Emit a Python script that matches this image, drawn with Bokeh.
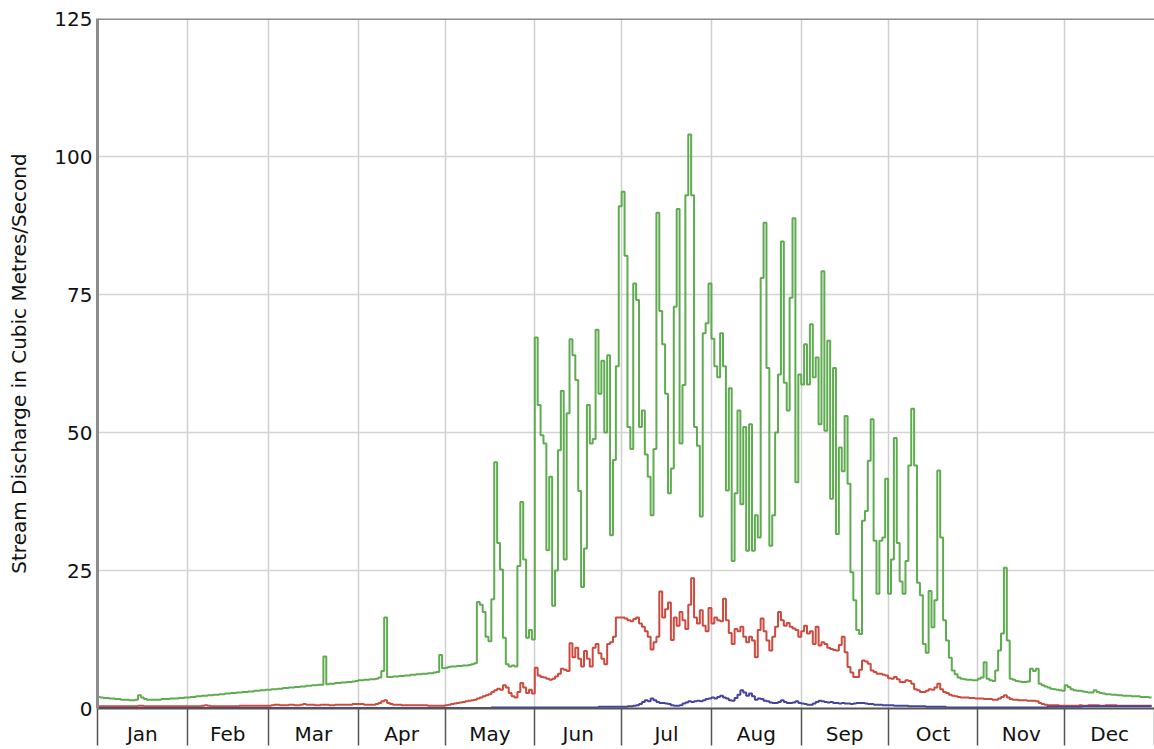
import numpy as np
from bokeh.plotting import figure
from bokeh.models import Range1d, FixedTicker, Span
from bokeh.embed import file_html
from bokeh.resources import INLINE

# ---------------- data ----------------
months = ["Jan", "Feb", "Mar", "Apr", "May", "Jun",
          "Jul", "Aug", "Sep", "Oct", "Nov", "Dec"]
month_days = [31, 28, 31, 30, 31, 30, 31, 31, 30, 31, 30, 31]
y_ticks = [0, 25, 50, 75, 100, 125]
y_title = "Stream Discharge in Cubic Metres/Second"

# green station (daily discharge, m3/s)
g_jan = [2.1, 2.0, 1.9, 1.9, 1.8, 1.8, 1.7, 1.7, 1.6, 1.6, 1.6, 1.5, 1.5, 1.6, 2.4, 2.0,
         1.7, 1.6, 1.6, 1.6, 1.6, 1.6, 1.7, 1.7, 1.7, 1.8, 1.8, 1.8, 1.9, 1.9, 2.0]
g_feb = [2.0, 2.1, 2.1, 2.2, 2.2, 2.3, 2.3, 2.4, 2.4, 2.5, 2.5, 2.6, 2.6, 2.7, 2.7, 2.8,
         2.8, 2.9, 2.9, 3.0, 3.0, 3.1, 3.1, 3.2, 3.2, 3.3, 3.3, 3.4]
g_mar = [3.4, 3.5, 3.5, 3.6, 3.6, 3.7, 3.7, 3.8, 3.8, 3.9, 3.9, 4.0, 4.0, 4.1, 4.1, 4.2,
         4.2, 4.3, 4.3, 9.4, 4.4, 4.5, 4.5, 4.6, 4.6, 4.7, 4.7, 4.8, 4.8, 4.9, 5.0]
g_apr = [5.1, 5.1, 5.2, 5.2, 5.3, 5.3, 5.4, 5.6, 6.8, 16.5, 5.7, 5.7, 5.8, 5.8, 5.9,
         5.9, 6.0, 6.0, 6.1, 6.1, 6.2, 6.2, 6.3, 6.3, 6.4, 6.4, 6.5, 6.6, 9.7, 7.3]
g_may = [7.4, 7.5, 7.6, 7.6, 7.7, 7.7, 7.8, 7.8, 7.9, 8.0, 8.2, 19.3, 18.8, 17.5, 13.0,
         12.2, 19.8, 44.6, 30.0, 25.2, 12.8, 8.0, 7.6, 7.8, 7.6, 25.8, 37.4, 27.0, 12.8,
         14.2, 12.5]
g_jun = [67.2, 55.0, 49.5, 48.0, 28.7, 42.0, 18.6, 25.0, 46.8, 57.5, 27.0, 53.5, 66.9,
         64.0, 59.5, 39.4, 22.0, 29.0, 55.0, 48.0, 48.8, 68.6, 57.0, 63.0, 50.0, 64.0,
         31.4, 45.0, 62.0, 91.0]
g_jul = [93.6, 82.0, 51.0, 47.0, 77.0, 74.0, 51.0, 54.0, 46.0, 42.0, 35.0, 47.0, 89.8,
         72.0, 66.0, 57.0, 39.0, 43.5, 72.8, 90.5, 48.0, 58.6, 93.0, 104.0, 93.0, 51.0,
         47.6, 34.8, 68.0, 69.8, 77.0]
g_aug = [67.0, 62.0, 60.0, 68.0, 62.0, 39.5, 58.0, 26.7, 39.0, 54.0, 37.0, 51.0, 28.6,
         51.5, 28.6, 35.0, 31.0, 78.0, 88.0, 61.7, 29.5, 35.0, 50.0, 60.5, 84.6, 59.0,
         54.0, 74.4, 88.8, 41.0, 60.5]
g_sep = [58.7, 66.0, 58.7, 69.6, 60.0, 63.6, 51.5, 79.2, 50.3, 66.6, 38.0, 61.7, 31.6,
         47.3, 43.0, 53.0, 40.7, 24.7, 19.6, 14.2, 13.5, 34.0, 35.8, 44.9, 52.4, 30.4,
         20.8, 30.4, 31.0, 41.6]
g_oct = [20.8, 27.0, 49.0, 30.0, 23.0, 20.8, 26.7, 44.0, 54.3, 44.0, 22.8, 20.5, 11.7,
         10.1, 21.3, 14.7, 19.6, 43.1, 31.0, 16.0, 12.3, 9.2, 6.9, 6.2, 5.6, 5.4, 5.3,
         5.2, 5.2, 5.1, 5.1]
g_nov = [5.4, 5.6, 8.4, 5.4, 5.1, 5.0, 6.9, 10.5, 13.6, 25.5, 12.3, 5.4, 5.2, 5.0, 4.9,
         4.8, 4.8, 4.9, 7.2, 6.8, 7.2, 4.5, 4.2, 4.0, 3.8, 3.6, 3.5, 3.4, 3.3, 3.2]
g_dec = [4.2, 3.9, 3.5, 3.3, 3.2, 3.2, 3.1, 3.0, 2.9, 2.9, 3.3, 3.0, 2.8, 2.7, 2.6, 2.6,
         2.5, 2.5, 2.4, 2.4, 2.3, 2.3, 2.3, 2.2, 2.2, 2.2, 2.1, 2.1, 2.1, 2.0, 2.0]

# red station
r_jan = [0.4, 0.4, 0.4, 0.4, 0.4, 0.4, 0.4, 0.4, 0.4, 0.4, 0.4, 0.4, 0.4, 0.4, 0.5, 0.5,
         0.4, 0.4, 0.4, 0.4, 0.4, 0.4, 0.4, 0.4, 0.4, 0.4, 0.4, 0.4, 0.4, 0.4, 0.4]
r_feb = [0.4, 0.4, 0.4, 0.4, 0.4, 0.5, 0.6, 0.5, 0.4, 0.4, 0.4, 0.4, 0.4, 0.4, 0.4, 0.4,
         0.4, 0.4, 0.5, 0.5, 0.5, 0.5, 0.5, 0.5, 0.5, 0.5, 0.5, 0.5]
r_mar = [0.5, 0.6, 0.7, 0.7, 0.6, 0.6, 0.6, 0.7, 0.7, 0.6, 0.6, 0.7, 0.8, 0.7, 0.7, 0.7,
         0.6, 0.6, 0.7, 0.7, 0.7, 0.6, 0.6, 0.7, 0.7, 0.7, 0.7, 0.7, 0.7, 0.8, 0.8]
r_apr = [0.8, 0.8, 0.7, 0.7, 0.7, 0.7, 0.8, 1.0, 1.3, 1.5, 1.0, 0.8, 0.7, 0.7, 0.7, 0.6,
         0.6, 0.6, 0.6, 0.6, 0.6, 0.6, 0.6, 0.6, 0.5, 0.5, 0.5, 0.5, 0.5, 0.5]
r_may = [0.6, 0.7, 0.8, 0.9, 1.0, 1.1, 1.2, 1.3, 1.4, 1.5, 1.6, 1.8, 2.0, 2.2, 2.4, 2.6,
         3.0, 3.3, 3.6, 3.4, 4.2, 3.8, 2.8, 2.2, 2.0, 3.0, 4.6, 3.8, 2.8, 3.4, 2.7]
r_jun = [7.4, 6.0, 5.7, 5.6, 5.4, 5.2, 5.4, 5.8, 6.3, 7.2, 7.0, 6.8, 11.8, 9.3, 11.0, 9.0,
         7.6, 10.4, 9.0, 7.6, 11.0, 11.7, 10.0, 9.0, 8.0, 11.7, 12.0, 13.0, 16.5, 16.5]
r_jul = [16.5, 16.3, 16.0, 15.8, 16.2, 16.5, 15.4, 14.8, 14.0, 13.0, 10.7, 12.0, 13.0,
         21.2, 16.5, 18.0, 19.2, 12.4, 16.5, 15.0, 17.5, 16.0, 14.4, 18.8, 23.6, 16.5,
         15.4, 17.8, 15.0, 14.0, 18.2]
r_aug = [15.4, 16.5, 16.0, 15.8, 19.9, 16.0, 13.7, 11.7, 14.4, 14.0, 14.8, 13.0, 12.0,
         13.0, 12.3, 9.3, 14.2, 16.3, 14.0, 12.3, 10.5, 13.0, 14.8, 17.5, 16.0, 15.0,
         15.5, 14.8, 14.5, 14.2, 13.0]
r_sep = [14.0, 15.0, 13.6, 14.0, 11.7, 14.8, 11.4, 12.0, 11.7, 11.0, 10.8, 10.6, 10.5,
         11.5, 13.0, 10.2, 7.5, 6.5, 5.7, 5.7, 7.0, 8.7, 8.5, 8.1, 6.9, 6.6, 6.3, 6.3,
         6.1, 6.0]
r_oct = [5.5, 5.4, 5.7, 5.3, 4.8, 4.8, 5.1, 5.0, 4.5, 3.5, 3.3, 3.0, 3.0, 3.2, 3.5, 3.4,
         3.8, 4.5, 3.5, 3.0, 2.8, 2.5, 2.3, 2.2, 2.1, 2.0, 2.0, 2.0, 1.9, 1.9, 1.8]
r_nov = [1.8, 1.8, 1.7, 1.7, 1.7, 1.6, 1.6, 1.8, 2.1, 2.4, 2.0, 1.7, 1.6, 1.6, 1.5, 1.5,
         1.5, 1.4, 1.4, 1.4, 1.3, 1.0, 0.8, 0.7, 0.6, 0.6, 0.6, 0.6, 0.5, 0.5]
r_dec = [0.5, 0.5, 0.5, 0.5, 0.5, 0.6, 0.5, 0.5, 0.6, 0.6, 0.6, 0.6, 0.5, 0.5, 0.6, 0.6,
         0.6, 0.6, 0.5, 0.5, 0.5, 0.5, 0.5, 0.5, 0.5, 0.5, 0.5, 0.5, 0.5, 0.5, 0.5]

# blue station
b_jan = [0.1, 0.1, 0.1, 0.1, 0.1, 0.1, 0.1, 0.1, 0.1, 0.1, 0.1, 0.1, 0.1, 0.1, 0.1, 0.1,
         0.1, 0.1, 0.1, 0.1, 0.1, 0.1, 0.1, 0.1, 0.1, 0.1, 0.1, 0.1, 0.1, 0.1, 0.1]
b_feb = [0.1, 0.1, 0.1, 0.1, 0.1, 0.1, 0.1, 0.1, 0.1, 0.1, 0.1, 0.1, 0.1, 0.1, 0.1, 0.1,
         0.1, 0.1, 0.1, 0.1, 0.1, 0.1, 0.1, 0.1, 0.1, 0.1, 0.1, 0.1]
b_mar = [0.1, 0.1, 0.1, 0.1, 0.1, 0.1, 0.1, 0.1, 0.1, 0.1, 0.1, 0.1, 0.1, 0.1, 0.1, 0.1,
         0.1, 0.1, 0.1, 0.1, 0.1, 0.1, 0.1, 0.1, 0.1, 0.1, 0.1, 0.1, 0.1, 0.1, 0.1]
b_apr = [0.1, 0.1, 0.1, 0.1, 0.1, 0.1, 0.1, 0.1, 0.1, 0.1, 0.1, 0.1, 0.1, 0.1, 0.1, 0.1,
         0.1, 0.1, 0.1, 0.1, 0.1, 0.1, 0.1, 0.1, 0.1, 0.1, 0.1, 0.1, 0.1, 0.1]
b_may = [0.1, 0.1, 0.1, 0.1, 0.1, 0.1, 0.1, 0.1, 0.1, 0.1, 0.1, 0.1, 0.1, 0.1, 0.1, 0.1,
         0.2, 0.2, 0.2, 0.2, 0.2, 0.2, 0.2, 0.2, 0.2, 0.2, 0.2, 0.2, 0.2, 0.2, 0.2]
b_jun = [0.2, 0.2, 0.2, 0.2, 0.2, 0.2, 0.2, 0.2, 0.2, 0.2, 0.2, 0.2, 0.2, 0.2, 0.2, 0.2,
         0.2, 0.2, 0.2, 0.2, 0.2, 0.2, 0.3, 0.3, 0.3, 0.3, 0.3, 0.3, 0.3, 0.3]
b_jul = [0.3, 0.3, 0.4, 0.4, 0.5, 0.6, 0.8, 1.2, 1.5, 1.3, 1.8, 1.5, 1.2, 1.0, 1.0, 0.9,
         0.8, 0.6, 0.5, 0.5, 0.6, 0.9, 1.1, 1.3, 1.2, 1.3, 1.4, 1.3, 1.5, 1.7, 1.8]
b_aug = [2.0, 1.8, 2.1, 2.3, 2.0, 1.8, 1.5, 1.4, 1.9, 2.5, 3.3, 2.9, 2.3, 2.7, 2.2, 1.6,
         1.8, 1.7, 1.4, 1.3, 1.1, 1.0, 1.0, 1.2, 1.5, 1.2, 1.0, 1.0, 1.1, 1.3, 1.0]
b_sep = [0.9, 0.8, 0.7, 0.7, 0.9, 1.2, 1.4, 1.3, 1.2, 1.1, 1.2, 1.0, 1.0, 0.9, 1.0, 0.9,
         0.9, 0.8, 0.9, 1.0, 1.0, 1.0, 0.9, 0.8, 0.8, 0.7, 0.7, 0.7, 0.6, 0.6]
b_oct = [0.6, 0.6, 0.5, 0.5, 0.5, 0.5, 0.5, 0.4, 0.4, 0.4, 0.4, 0.4, 0.4, 0.3, 0.3, 0.3,
         0.3, 0.3, 0.3, 0.3, 0.2, 0.2, 0.2, 0.2, 0.2, 0.2, 0.2, 0.2, 0.2, 0.2, 0.2]
b_nov = [0.2, 0.2, 0.2, 0.2, 0.2, 0.2, 0.2, 0.2, 0.2, 0.2, 0.2, 0.2, 0.2, 0.2, 0.2, 0.2,
         0.2, 0.2, 0.2, 0.2, 0.2, 0.2, 0.2, 0.2, 0.3, 0.3, 0.3, 0.3, 0.3, 0.3]
b_dec = [0.3, 0.3, 0.3, 0.3, 0.3, 0.3, 0.4, 0.4, 0.4, 0.4, 0.4, 0.4, 0.4, 0.4, 0.4, 0.4,
         0.4, 0.4, 0.4, 0.4, 0.4, 0.4, 0.4, 0.4, 0.4, 0.4, 0.4, 0.4, 0.4, 0.4, 0.4]

green = (g_jan + g_feb + g_mar + g_apr + g_may + g_jun +
         g_jul + g_aug + g_sep + g_oct + g_nov + g_dec)
red = (r_jan + r_feb + r_mar + r_apr + r_may + r_jun +
       r_jul + r_aug + r_sep + r_oct + r_nov + r_dec)
blue = (b_jan + b_feb + b_mar + b_apr + b_may + b_jun +
        b_jul + b_aug + b_sep + b_oct + b_nov + b_dec)

days = np.arange(len(green))
bounds = np.concatenate([[0], np.cumsum(month_days)]).astype(float)
mids = (bounds[:-1] + bounds[1:]) / 2.0

FONT = "DejaVu Sans"

p = figure(width=1154, height=749, output_backend="svg", toolbar_location=None,
           x_range=Range1d(0, 365), y_range=Range1d(0, 125),
           min_border_left=97, min_border_right=0, min_border_top=18,
           min_border_bottom=41)
p.outline_line_color = None
p.background_fill_color = "white"
p.border_fill_color = "white"

# grid
p.xgrid.ticker = FixedTicker(ticks=list(bounds))
p.ygrid.ticker = FixedTicker(ticks=y_ticks)
p.xgrid.grid_line_color = "#cfcfcf"
p.ygrid.grid_line_color = "#d4d4d4"
p.xgrid.grid_line_width = 1.5
p.ygrid.grid_line_width = 1.5

# series
p.step(days, green, mode="after", line_color="#5fab50", line_width=2)
p.step(days, red, mode="after", line_color="#cc4a3e", line_width=2)
p.step(days, blue, mode="after", line_color="#44449e", line_width=2)

# top border
p.add_layout(Span(location=125, dimension="width", line_color="#8c8c8c", line_width=3))

# x axis: month names centered, dividers as long minor ticks
xa = p.xaxis[0]
xa.ticker = FixedTicker(ticks=list(mids), minor_ticks=list(bounds))
xa.major_label_overrides = {float(m): n for m, n in zip(mids, months)}
xa.major_tick_line_color = None
xa.major_tick_out = 0
xa.major_tick_in = 0
xa.minor_tick_out = 37
xa.minor_tick_in = 0
xa.minor_tick_line_color = "#555555"
xa.minor_tick_line_width = 1.5
xa.axis_line_color = "#555555"
xa.axis_line_width = 2
xa.major_label_standoff = -24
xa.major_label_text_font = FONT
xa.major_label_text_font_size = "20px"
xa.major_label_text_color = "#111111"

# y axis
ya = p.yaxis[0]
ya.ticker = FixedTicker(ticks=y_ticks)
ya.major_tick_line_color = None
ya.major_tick_out = 0
ya.major_tick_in = 0
ya.minor_tick_line_color = None
ya.axis_line_color = "#8c8c8c"
ya.axis_line_width = 3
ya.major_label_standoff = 5
ya.major_label_text_font = FONT
ya.major_label_text_font_size = "20px"
ya.major_label_text_color = "#111111"
ya.axis_label = y_title
ya.axis_label_text_font = FONT
ya.axis_label_text_font_size = "20px"
ya.axis_label_text_font_style = "normal"
ya.axis_label_text_color = "#111111"
ya.axis_label_standoff = 20

open("out.html", "w").write(file_html(p, INLINE))
